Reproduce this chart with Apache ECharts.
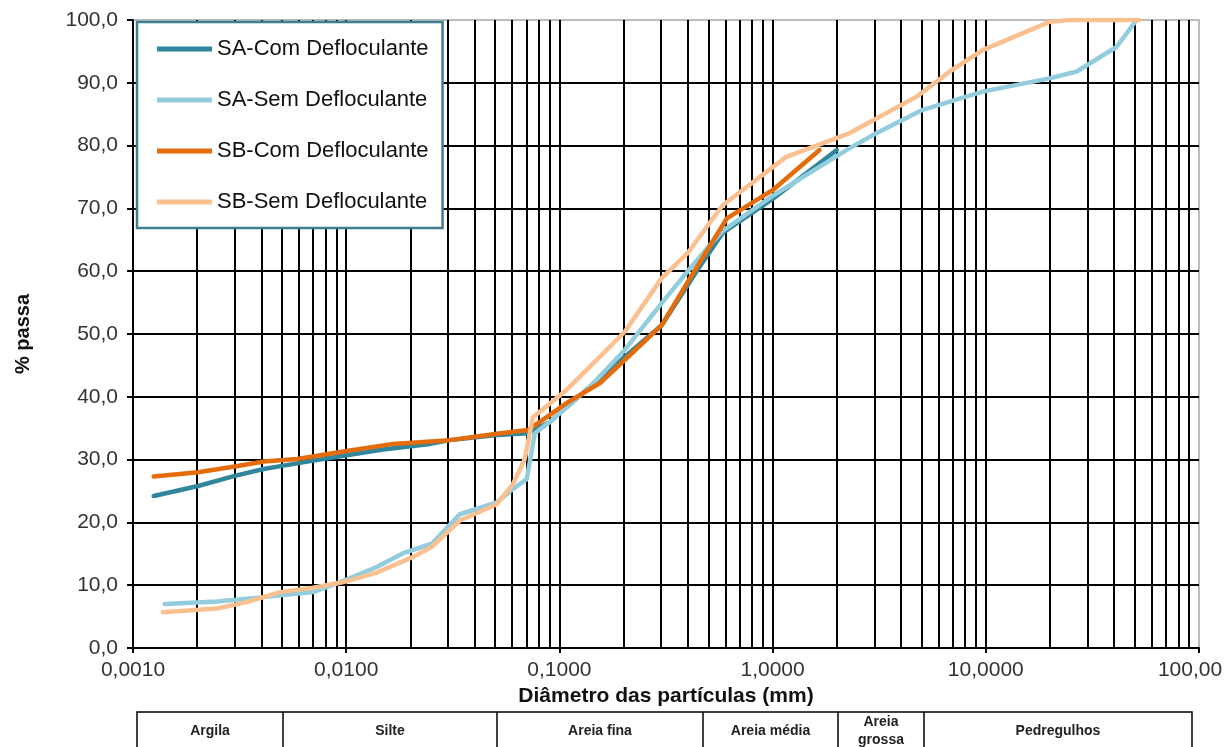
<!DOCTYPE html>
<html>
<head>
<meta charset="utf-8">
<script src="https://cdn.jsdelivr.net/npm/echarts@6/dist/echarts.min.js"></script>
<style>
  html, body { margin: 0; padding: 0; background: #fff; }
  #chart { width: 1230px; height: 747px; }
</style>
</head>
<body>
<div id="chart"></div>
<script>
// curvas granulometricas (diametro em mm, % passa)
var saComX = [0.00125, 0.00202, 0.0030, 0.0041, 0.0050, 0.0069, 0.0097, 0.0149, 0.0247, 0.0306, 0.0509, 0.0711, 0.0902, 0.139, 0.203, 0.302, 0.44, 0.583, 1.0, 2.0];
var saComY = [24.2, 25.8, 27.4, 28.5, 29.0, 29.8, 30.6, 31.6, 32.5, 33.1, 33.9, 34.2, 36.0, 41.6, 46.4, 51.4, 60.0, 66.1, 71.5, 79.3];

var saSemX = [0.00141, 0.00248, 0.0041, 0.0070, 0.0097, 0.0139, 0.0185, 0.0252, 0.0341, 0.0509, 0.0605, 0.0703, 0.0767, 0.0902, 0.139, 0.203, 0.302, 0.40, 0.50, 0.583, 1.0, 2.3, 3.08, 5.06, 9.66, 19.9, 26.7, 41.0, 50.9];
var saSemY = [7.0, 7.4, 8.1, 8.9, 10.7, 12.9, 15.1, 16.6, 21.3, 23.2, 25.3, 26.9, 34.2, 36.0, 41.6, 47.5, 54.9, 60.0, 63.9, 66.4, 72.0, 79.6, 82.0, 85.7, 88.6, 90.7, 91.8, 95.7, 100];

var sbComX = [0.00125, 0.00202, 0.0030, 0.0041, 0.0059, 0.0097, 0.0166, 0.0306, 0.0509, 0.0711, 0.075, 0.108, 0.155, 0.203, 0.302, 0.40, 0.61, 1.0, 1.66];
var sbComY = [27.3, 28.0, 28.9, 29.7, 30.1, 31.3, 32.5, 33.1, 34.1, 34.7, 35.2, 39.0, 42.2, 45.9, 51.4, 58.3, 68.4, 72.9, 79.3];

var sbSemX = [0.00138, 0.00248, 0.0034, 0.0049, 0.0070, 0.0097, 0.0139, 0.0206, 0.0252, 0.0341, 0.0509, 0.0605, 0.0688, 0.075, 0.108, 0.155, 0.203, 0.302, 0.40, 0.583, 1.16, 2.3, 4.74, 6.77, 9.66, 19.9, 24.7, 52.6];
var sbSemY = [5.7, 6.3, 7.3, 8.9, 9.6, 10.5, 12.0, 14.5, 16.1, 20.3, 22.9, 26.1, 30.1, 36.7, 41.1, 46.4, 50.4, 58.9, 62.9, 70.5, 78.2, 82.0, 87.8, 91.8, 95.2, 99.7, 100, 100];

var seriesNames = ['SA-Com Defloculante', 'SA-Sem Defloculante', 'SB-Com Defloculante', 'SB-Sem Defloculante'];
var seriesColors = ['#31859C', '#93CDDD', '#E46C0A', '#FAC090'];

var xTickLabels = ['0,0010', '0,0100', '0,1000', '1,0000', '10,0000', '100,00'];
var decades = [0.001, 0.01, 0.1, 1, 10];
var minorMult = [2, 3, 4, 5, 6, 7, 8, 9];

// tabela de classificacao abaixo do grafico
var tableLabels = ['Argila', 'Silte', 'Areia fina', 'Areia média', 'Areia\ngrossa', 'Pedregulhos'];
var tableEdges = [137, 283, 497, 703, 838, 924, 1192];
var tableTop = 712;

function pairs(xs, ys) {
    return xs.map(function (x, i) { return [x, ys[i]]; });
}

var minorLines = [];
decades.forEach(function (d) {
    minorMult.forEach(function (m) {
        minorLines.push({ coords: [[d * m, 0], [d * m, 100]] });
    });
});

var font = 'Liberation Sans, Arial, sans-serif';

var graphics = [{
    type: 'rect',
    shape: { x: tableEdges[0], y: tableTop, width: tableEdges[tableEdges.length - 1] - tableEdges[0], height: 60 },
    style: { fill: 'none', stroke: '#000', lineWidth: 1.5 }
}];
for (var i = 1; i < tableEdges.length - 1; i++) {
    graphics.push({
        type: 'line',
        shape: { x1: tableEdges[i], y1: tableTop, x2: tableEdges[i], y2: 760 },
        style: { stroke: '#000', lineWidth: 1.5 }
    });
}
tableLabels.forEach(function (t, i) {
    graphics.push({
        type: 'text',
        x: (tableEdges[i] + tableEdges[i + 1]) / 2,
        y: 731,
        style: {
            text: t, align: 'center', verticalAlign: 'middle',
            font: 'bold 14px ' + font, fill: '#222', lineHeight: 18
        }
    });
});

var allX = [saComX, saSemX, sbComX, sbSemX];
var allY = [saComY, saSemY, sbComY, sbSemY];

var series = [{
    type: 'lines',
    coordinateSystem: 'cartesian2d',
    silent: true,
    z: 1,
    lineStyle: { color: '#000', width: 2, opacity: 1 },
    data: minorLines
}];
seriesNames.forEach(function (name, i) {
    series.push({
        name: name,
        type: 'line',
        symbol: 'none',
        z: 3 + i,
        color: seriesColors[i],
        lineStyle: { width: 4.5, color: seriesColors[i], cap: 'round', join: 'round' },
        data: pairs(allX[i], allY[i])
    });
});

var myChart = echarts.init(document.getElementById('chart'));
var option = {
    animation: false,
    backgroundColor: '#fff',
    grid: {
        left: 133, right: 31, top: 20, bottom: 99,
        show: true, borderColor: '#a6a6a6', borderWidth: 1.5,
        outerBoundsMode: 'none'
    },
    legend: {
        data: seriesNames,
        orient: 'vertical',
        left: 137, top: 22,
        padding: [15, 14, 14, 20],
        icon: 'rect',
        itemWidth: 55, itemHeight: 5, itemGap: 27,
        backgroundColor: '#fff',
        borderColor: '#3d7f8f', borderWidth: 2.5,
        textStyle: { fontFamily: font, fontSize: 22, lineHeight: 24, color: '#111' }
    },
    xAxis: {
        type: 'log',
        logBase: 10,
        min: 0.001, max: 100,
        name: 'Diâmetro das partículas (mm)',
        nameLocation: 'middle',
        nameGap: 35,
        nameTextStyle: { fontFamily: font, fontSize: 21, fontWeight: 'bold', color: '#111' },
        axisLine: { show: true, onZero: false, lineStyle: { color: '#000', width: 2 } },
        axisTick: { show: true, inside: false, length: 5, lineStyle: { color: '#000', width: 2 } },
        axisLabel: {
            margin: 12,
            fontFamily: font, fontSize: 21, color: '#333',
            formatter: function (v) {
                var k = Math.round(Math.log10(v)) + 3;
                return k === 5 ? '{r|' + xTickLabels[k] + '}' : xTickLabels[k];
            },
            rich: { r: { fontFamily: font, fontSize: 21, color: '#333', padding: [0, 18, 0, 0] } }
        },
        splitLine: { show: true, showMaxLine: false, lineStyle: { color: '#000', width: 2 } },
        minorTick: { show: false },
        minorSplitLine: { show: false }
    },
    yAxis: {
        type: 'value',
        min: 0, max: 100, interval: 10,
        name: '% passa',
        nameLocation: 'middle',
        nameGap: 100,
        nameTextStyle: { fontFamily: font, fontSize: 20, fontWeight: 'bold', color: '#111' },
        axisLine: { show: true, lineStyle: { color: '#000', width: 2 } },
        axisTick: { show: true, inside: false, length: 6, lineStyle: { color: '#000', width: 2 } },
        axisLabel: {
            margin: 15,
            fontFamily: font, fontSize: 21, color: '#333',
            formatter: function (v) { return v.toFixed(1).replace('.', ','); }
        },
        splitLine: { show: true, showMaxLine: false, lineStyle: { color: '#000', width: 2 } }
    },
    graphic: graphics,
    series: series
};
myChart.setOption(option);
</script>
</body>
</html>
